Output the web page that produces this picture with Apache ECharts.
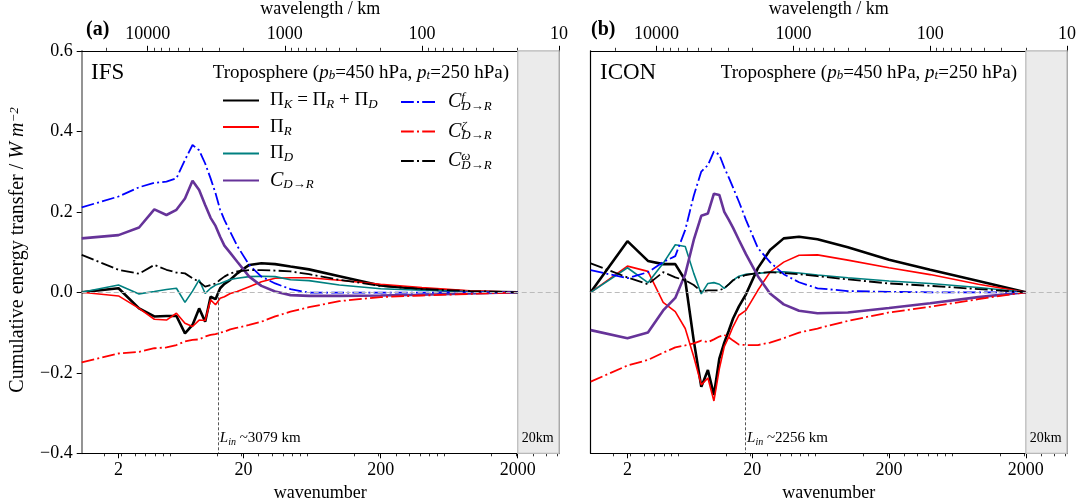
<!DOCTYPE html>
<html>
<head>
<meta charset="utf-8">
<script src="https://cdn.jsdelivr.net/npm/echarts@6/dist/echarts.min.js"></script>
<style>
  html, body { margin: 0; padding: 0; background: #fff; }
  #chart { width: 1083px; height: 503px; }
</style>
</head>
<body>
<div id="chart"></div>
<script>
// wavenumber grid shared by both panels (effective wavenumber)
const kGrid = [1.32, 2.45, 3.46, 4.47, 5.48, 6.48, 7.48, 8.49, 9.49, 10.5, 11.5, 12.5, 13.5, 14.5, 16, 18, 22, 27, 34, 44, 60, 100, 200, 400, 900, 2000];

// (a) IFS
const ifsPiK = [0, 0.01, -0.04, -0.06, -0.059, -0.059, -0.102, -0.081, -0.04, -0.073, -0.011, -0.017, 0.01, 0.021, 0.031, 0.047, 0.068, 0.072, 0.07, 0.064, 0.057, 0.04, 0.017, 0.008, 0.002, 0];
const ifsPiR = [0, -0.009, -0.04, -0.067, -0.069, -0.052, -0.077, -0.085, -0.069, -0.07, -0.019, -0.031, -0.015, -0.011, -0.003, 0.002, 0.014, 0.026, 0.035, 0.036, 0.036, 0.03, 0.02, 0.012, 0.004, 0];
const ifsPiD = [0, 0.018, -0.004, 0.002, 0.007, 0.01, -0.025, 0.003, 0.031, -0.003, 0.01, 0.018, 0.022, 0.026, 0.032, 0.035, 0.039, 0.04, 0.039, 0.031, 0.029, 0.018, 0.009, 0.005, 0.002, 0];
const ifsC   = [0.134, 0.142, 0.161, 0.206, 0.192, 0.205, 0.233, 0.277, 0.254, 0.217, 0.185, 0.165, 0.138, 0.116, 0.098, 0.076, 0.039, 0.016, 0.002, -0.007, -0.009, -0.009, -0.008, -0.006, -0.003, 0];
const ifsCf  = [0.211, 0.238, 0.261, 0.272, 0.275, 0.283, 0.329, 0.366, 0.353, 0.32, 0.283, 0.246, 0.205, 0.18, 0.15, 0.115, 0.068, 0.039, 0.022, 0.008, -0.001, -0.001, -0.001, -0.001, 0, 0];
const ifsCz  = [-0.174, -0.152, -0.148, -0.139, -0.137, -0.131, -0.122, -0.118, -0.117, -0.11, -0.106, -0.104, -0.1, -0.098, -0.092, -0.088, -0.081, -0.073, -0.06, -0.048, -0.037, -0.022, -0.012, -0.008, -0.004, 0];
const ifsCw  = [0.093, 0.056, 0.046, 0.068, 0.056, 0.049, 0.047, 0.035, 0.026, 0.014, 0.018, 0.022, 0.031, 0.039, 0.047, 0.052, 0.055, 0.055, 0.054, 0.052, 0.045, 0.031, 0.016, 0.008, 0.003, 0];

// (b) ICON
const iconPiK = [0, 0.127, 0.078, 0.07, 0.07, 0.03, -0.12, -0.235, -0.193, -0.255, -0.165, -0.125, -0.095, -0.065, -0.035, -0.005, 0.06, 0.105, 0.134, 0.138, 0.132, 0.112, 0.081, 0.056, 0.028, 0];
const iconPiR = [0, 0.065, 0.052, -0.025, -0.048, -0.09, -0.16, -0.23, -0.213, -0.27, -0.19, -0.135, -0.11, -0.085, -0.057, -0.045, 0.005, 0.05, 0.075, 0.092, 0.093, 0.08, 0.061, 0.044, 0.02, 0];
const iconPiD = [0, 0.061, 0.024, 0.072, 0.118, 0.114, 0.047, -0.004, 0.022, 0.024, 0.02, 0.01, 0.02, 0.03, 0.04, 0.045, 0.047, 0.05, 0.051, 0.048, 0.043, 0.036, 0.028, 0.022, 0.012, 0];
const iconC   = [-0.094, -0.114, -0.1, -0.045, -0.014, 0.045, 0.13, 0.19, 0.196, 0.245, 0.242, 0.2, 0.18, 0.16, 0.13, 0.095, 0.04, -0.003, -0.03, -0.046, -0.052, -0.05, -0.039, -0.027, -0.012, 0];
const iconCf  = [0.055, 0.035, 0.05, 0.075, 0.09, 0.155, 0.24, 0.3, 0.316, 0.35, 0.342, 0.31, 0.285, 0.26, 0.225, 0.18, 0.11, 0.075, 0.045, 0.025, 0.01, 0.003, 0.001, 0, 0, 0];
const iconCz  = [-0.222, -0.182, -0.168, -0.15, -0.137, -0.132, -0.127, -0.12, -0.124, -0.117, -0.11, -0.106, -0.112, -0.12, -0.13, -0.131, -0.131, -0.125, -0.114, -0.1, -0.09, -0.071, -0.05, -0.036, -0.017, 0];
const iconCw  = [0.072, 0.037, 0.02, 0.05, 0.037, 0.03, 0.018, 0.002, 0.005, 0.005, 0.005, 0.01, 0.02, 0.03, 0.037, 0.043, 0.048, 0.05, 0.048, 0.045, 0.04, 0.032, 0.022, 0.016, 0.008, 0];

// injection length scales (km) and the 20 km cut-off wavenumber
const linKm = [3079, 2256];
const cutK = 2000;
const CIRC = 40000; // km, wavelength = CIRC / wavenumber

// axis ticks
const bottomTicks = [2.45, 20, 200, 2000];
const bottomTickLabels = ['2', '20', '200', '2000'];
const topTickKm = [10000, 1000, 100, 10];

const K_MIN = 1.32, K_MAX = 4000;
const SERIF = 'Liberation Serif';

const bottomMinor = [];
[1, 10, 100, 1000].forEach(d => { for (let m = 2; m <= 9; m++) { const v = 0.645 * m * d; if (v > K_MIN && v < K_MAX) bottomMinor.push(v); } });
const topMinor = [];
[10000, 1000, 100, 10].forEach(d => { for (let m = 2; m <= 9; m++) { const v = CIRC / (m * d); if (v > 1.4 && v < K_MAX) topMinor.push(v); } });

const DD = [12.8, 3.2, 2, 3.2];
const styles = {
  PiK: { color: '#000000', width: 2.6, type: 'solid' },
  PiR: { color: '#ff0000', width: 1.6, type: 'solid' },
  PiD: { color: '#008080', width: 1.6, type: 'solid' },
  C:   { color: '#663399', width: 2.6, type: 'solid' },
  Cf:  { color: '#0000ff', width: 1.8, type: DD },
  Cz:  { color: '#ff0000', width: 1.8, type: DD },
  Cw:  { color: '#000000', width: 1.8, type: DD }
};
const legendText = {
  PiK: '{g|}{m|Π}{si|K}{m| = Π}{si|R}{m| + Π}{si|D}',
  PiR: '{g|}{m|Π}{si|R}',
  PiD: '{g|}{m|Π}{si|D}',
  C:   '{g|}{c|C}{si|D→R}',
  Cf:  '{g|}{c|C}{p|f}{si|D→R}',
  Cz:  '{g|}{c|C}{p|ζ}{si|D→R}',
  Cw:  '{g|}{c|C}{p|ω}{si|D→R}'
};
const rich = {
  m:  { fontFamily: SERIF, fontSize: 19, lineHeight: 22, color: '#000' },
  c:  { fontFamily: SERIF, fontSize: 20, fontStyle: 'italic', lineHeight: 22, color: '#000' },
  i:  { fontFamily: SERIF, fontSize: 19, fontStyle: 'italic', color: '#000' },
  si: { fontFamily: SERIF, fontSize: 13, fontStyle: 'italic', verticalAlign: 'bottom', lineHeight: 13, color: '#000' },
  p:  { fontFamily: SERIF, fontSize: 13, fontStyle: 'italic', verticalAlign: 'top', lineHeight: 13, width: 0, color: '#000' },
  g:  { width: 6 }
};

function nearestLabel(v, ticks, labels) {
  let best = 0;
  ticks.forEach((t, i) => { if (Math.abs(Math.log10(t) - Math.log10(v)) < Math.abs(Math.log10(ticks[best]) - Math.log10(v))) best = i; });
  return labels[best];
}

const panels = [
  { grid: { left: 81.7, top: 50.8, width: 477.3, height: 402.5 }, leftLine: '#888888',
    data: { PiK: ifsPiK, PiR: ifsPiR, PiD: ifsPiD, C: ifsC, Cf: ifsCf, Cz: ifsCz, Cw: ifsCw }, lin: linKm[0] },
  { grid: { left: 590.7, top: 50.8, width: 476.3, height: 402.5 }, leftLine: '#000000',
    data: { PiK: iconPiK, PiR: iconPiR, PiD: iconPiD, C: iconC, Cf: iconCf, Cz: iconCz, Cw: iconCw }, lin: linKm[1] }
];

const grids = [], xAxes = [], yAxes = [], series = [];
const tickFont = { fontFamily: SERIF, fontSize: 18, color: '#000' };

panels.forEach((p, pi) => {
  grids.push(Object.assign({ outerBoundsMode: 'none', containLabel: false }, p.grid));
  const base = { type: 'log', gridIndex: pi, min: K_MIN, max: K_MAX, splitLine: { show: false } };
  const xi = xAxes.length;
  // bottom major
  xAxes.push(Object.assign({}, base, {
    position: 'bottom',
    name: 'wavenumber', nameLocation: 'middle', nameGap: 29,
    nameTextStyle: tickFont,
    axisLine: { show: true, onZero: false, lineStyle: { color: '#000', width: 1.2 } },
    axisTick: { show: true, length: 5, lineStyle: { color: '#000', width: 1 }, customValues: bottomTicks },
    axisLabel: { show: true, margin: 8, customValues: bottomTicks, formatter: v => nearestLabel(v, bottomTicks, bottomTickLabels), ...tickFont }
  }));
  // bottom minor
  xAxes.push(Object.assign({}, base, {
    position: 'bottom',
    axisLine: { show: false, onZero: false },
    axisTick: { show: true, length: 3, lineStyle: { color: '#000', width: 0.8 }, customValues: bottomMinor },
    axisLabel: { show: false }
  }));
  // top major
  const topK = topTickKm.map(l => CIRC / l);
  xAxes.push(Object.assign({}, base, {
    position: 'top',
    name: 'wavelength / km', nameLocation: 'middle', nameGap: 33,
    nameTextStyle: tickFont,
    axisLine: { show: true, onZero: false, lineStyle: { color: '#000', width: 1.2 } },
    axisTick: { show: true, length: 5, lineStyle: { color: '#000', width: 1 }, customValues: topK },
    axisLabel: { show: true, margin: 8, customValues: topK, formatter: v => String(Math.round(CIRC / v)), ...tickFont }
  }));
  // top minor
  xAxes.push(Object.assign({}, base, {
    position: 'top',
    axisLine: { show: false, onZero: false },
    axisTick: { show: true, length: 3, lineStyle: { color: '#000', width: 0.8 }, customValues: topMinor },
    axisLabel: { show: false }
  }));

  const yi = yAxes.length;
  yAxes.push({
    type: 'value', gridIndex: pi, min: -0.4, max: 0.6, interval: 0.2, position: 'left',
    splitLine: { show: false },
    axisLine: { show: true, onZero: false, lineStyle: { color: p.leftLine, width: pi === 0 ? 1.8 : 1.2 } },
    axisTick: { show: pi === 0, length: 5, lineStyle: { color: '#000', width: 1 } },
    axisLabel: { show: pi === 0, margin: 9, ...tickFont,
      formatter: v => (Math.abs(v) < 1e-9 ? '0.0' : (v < 0 ? '\u2212' : '') + Math.abs(v).toFixed(1)) }
  });
  yAxes.push({
    type: 'value', gridIndex: pi, min: -0.4, max: 0.6, interval: 0.2, position: 'right',
    splitLine: { show: false },
    axisLine: { show: true, onZero: false, lineStyle: { color: '#888888', width: 1.8 } },
    axisTick: { show: false }, axisLabel: { show: false }
  });

  const kLin = CIRC / p.lin;
  // decorations: 20 km band, zero line, injection scale
  series.push({
    type: 'line', name: 'decor' + pi, xAxisIndex: xi, yAxisIndex: yi, data: [], z: 1, silent: true,
    markArea: { silent: true, itemStyle: { color: '#ebebeb', borderColor: '#b8b8b8', borderWidth: 1.2 },
      data: [[{ xAxis: cutK }, { xAxis: K_MAX }]] },
    markLine: { silent: true, symbol: 'none', label: { show: false },
      data: [
        { yAxis: 0, lineStyle: { color: '#bbbbbb', type: [5, 3], width: 1.1 } },
        [{ coord: [kLin, 0], lineStyle: { color: '#444', type: [3, 2], width: 0.9 } }, { coord: [kLin, -0.4] }]
      ] },
    markPoint: { silent: true, symbol: 'circle', symbolSize: 0,
      label: { show: true, position: 'right', distance: 2, offset: [0, -15], color: '#000', fontFamily: SERIF, fontSize: 14, rich: {
        i: { fontFamily: SERIF, fontSize: 15, fontStyle: 'italic', color: '#000' },
        si: { fontFamily: SERIF, fontSize: 10, fontStyle: 'italic', verticalAlign: 'bottom', lineHeight: 10, color: '#000' },
        t: { fontFamily: SERIF, fontSize: 15, lineHeight: 18, color: '#000' } } },
      data: [
        { coord: [kLin, -0.4], label: { formatter: '{i|L}{si|in}{t| ~' + p.lin + ' km}' } },
        { coord: [cutK, -0.4], label: { formatter: '20km', distance: 4 } }
      ] }
  });

  Object.keys(styles).forEach(name => {
    const st = styles[name];
    series.push({
      type: 'line', name: name, xAxisIndex: xi, yAxisIndex: yi, z: 3,
      symbol: 'none', showSymbol: false, smooth: false,
      lineStyle: { color: st.color, width: st.width, type: st.type },
      itemStyle: { color: st.color },
      data: kGrid.map((k, i) => [k, p.data[name][i]])
    });
  });
});

const legendBase = {
  orient: 'vertical', itemWidth: 36, itemHeight: 14, padding: 0,
  itemStyle: { opacity: 0, borderWidth: 0 },
  textStyle: { fontFamily: SERIF, fontSize: 19, color: '#000', rich: rich },
  formatter: n => legendText[n], selectedMode: false
};

const option = {
  animation: false,
  backgroundColor: '#fff',
  grid: grids,
  xAxis: xAxes,
  yAxis: yAxes,
  series: series,
  legend: [
    Object.assign({}, legendBase, { left: 222, top: 91, itemGap: 6, data: ['PiK', 'PiR', 'PiD', 'C'] }),
    Object.assign({}, legendBase, { left: 400, top: 91, itemGap: 7.5, data: ['Cf', 'Cz', 'Cw'] })
  ],
  graphic: [
    { type: 'text', x: 86, y: 30, style: { text: '(a)', fontFamily: SERIF, fontSize: 20, fontWeight: 'bold', fill: '#000', verticalAlign: 'middle' } },
    { type: 'text', x: 591, y: 30, style: { text: '(b)', fontFamily: SERIF, fontSize: 20, fontWeight: 'bold', fill: '#000', verticalAlign: 'middle' } },
    { type: 'text', x: 91, y: 73, style: { text: 'IFS', fontFamily: SERIF, fontSize: 23, fill: '#000', verticalAlign: 'middle' } },
    { type: 'text', x: 600, y: 73, style: { text: 'ICON', fontFamily: SERIF, fontSize: 23, fill: '#000', verticalAlign: 'middle' } },
    { type: 'text', x: 509, y: 73, style: { text: 'Troposphere ({i|p}{si|b}=450 hPa, {i|p}{si|t}=250 hPa)', fontFamily: SERIF, fontSize: 19, fill: '#000', align: 'right', verticalAlign: 'middle', rich: rich } },
    { type: 'text', x: 1017, y: 73, style: { text: 'Troposphere ({i|p}{si|b}=450 hPa, {i|p}{si|t}=250 hPa)', fontFamily: SERIF, fontSize: 19, fill: '#000', align: 'right', verticalAlign: 'middle', rich: rich } },
    { type: 'text', x: 18, y: 250, rotation: Math.PI / 2,
      style: { text: 'Cumulative energy transfer / {i|W m}{sp|\u22122}', fontFamily: SERIF, fontSize: 20, fill: '#000', align: 'center', verticalAlign: 'middle',
        rich: { i: { fontFamily: SERIF, fontSize: 20, fontStyle: 'italic' }, sp: { fontFamily: SERIF, fontSize: 13, fontStyle: 'italic', verticalAlign: 'top', lineHeight: 13 } } } }
  ]
};

const chart = echarts.init(document.getElementById('chart'), null, { renderer: 'canvas' });
chart.setOption(option);
</script>
</body>
</html>
